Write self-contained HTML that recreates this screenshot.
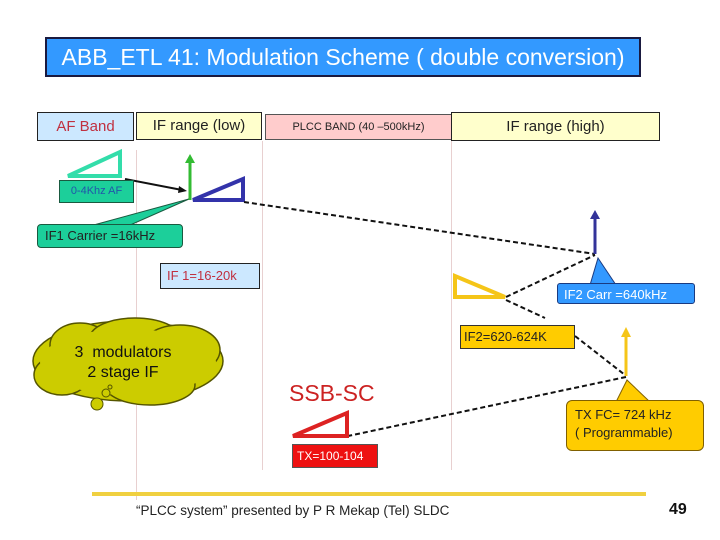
<!DOCTYPE html>
<html><head><style>
body{margin:0;width:720px;height:540px;background:#fff;overflow:hidden;font-family:"Liberation Sans","DejaVu Sans",sans-serif;}
.a{position:absolute;box-sizing:border-box;}
</style></head><body>
<div class="a" style="left:45px;top:37px;width:596px;height:40px;background:#3399ff;border:2px solid #1a1a40;color:#fff;font-size:23px;line-height:36px;text-align:center;">ABB_ETL 41: Modulation Scheme ( double conversion)</div>

<div class="a" style="left:37px;top:112px;width:97px;height:29px;background:#cce8ff;border:1px solid #222;color:#c03040;font-size:15px;line-height:27px;text-align:center;">AF Band</div>
<div class="a" style="left:136px;top:112px;width:126px;height:28px;background:#ffffcc;border:1px solid #222;color:#222;font-size:15px;line-height:26px;text-align:center;">IF range (low)</div>
<div class="a" style="left:265px;top:114px;width:187px;height:26px;background:#ffcccc;border:1px solid #555;color:#222;font-size:11px;line-height:24px;text-align:center;">PLCC BAND (40 –500kHz)</div>
<div class="a" style="left:451px;top:112px;width:209px;height:29px;background:#ffffcc;border:1px solid #222;color:#222;font-size:15px;line-height:27px;text-align:center;">IF range (high)</div>

<svg class="a" style="left:0;top:0" width="720" height="540">
<g stroke="#e8d0d0" stroke-width="1">
<line x1="136.5" y1="150" x2="136.5" y2="500"/>
<line x1="262.5" y1="141" x2="262.5" y2="470"/>
<line x1="451.5" y1="141" x2="451.5" y2="470"/>
</g>
<polygon points="68,176 120,176 120,152" fill="none" stroke="#33ddaa" stroke-width="4"/>
<polygon points="90,226 128,226 189,199" fill="#1ccf9a" stroke="#1a5a40" stroke-width="1"/>
<polygon points="590,285 616,285 598,258" fill="#3399ff" stroke="#1a3a80"/>
<polygon points="616,402 650,402 627,380" fill="#ffcc00" stroke="#806000"/>
<line x1="125" y1="179" x2="182" y2="190" stroke="#111" stroke-width="2"/>
<polygon points="187,191 179,186 178,193" fill="#111"/>
<line x1="190" y1="200" x2="190" y2="162" stroke="#33bb33" stroke-width="3"/>
<polygon points="190,154 185,163 195,163" fill="#33bb33"/>
<polygon points="193,200 243,200 243,179" fill="none" stroke="#3333aa" stroke-width="4"/>
<g stroke="#111" stroke-width="2" stroke-dasharray="5,3" fill="none">
<line x1="244" y1="202" x2="595" y2="254"/>
<line x1="506" y1="297" x2="595" y2="255"/>
<line x1="506" y1="300" x2="545" y2="318"/>
<line x1="575" y1="336" x2="625" y2="375"/>
<line x1="626" y1="377" x2="348" y2="436"/>
</g>
<line x1="595" y1="254" x2="595" y2="218" stroke="#333399" stroke-width="3"/>
<polygon points="595,210 590,219 600,219" fill="#333399"/>
<polygon points="455,276 455,297 505,297" fill="none" stroke="#f5c518" stroke-width="4"/>
<line x1="626" y1="376" x2="626" y2="336" stroke="#f5c518" stroke-width="3"/>
<polygon points="626,327 621,337 631,337" fill="#f5c518"/>
<polygon points="293,436 347,436 347,413" fill="none" stroke="#dd2222" stroke-width="4"/>
<g fill="#cccc00" stroke="#555500" stroke-width="1.5">
<ellipse cx="128" cy="361" rx="95" ry="40"/>
<ellipse cx="80" cy="345" rx="30" ry="22"/>
<ellipse cx="135" cy="338" rx="45" ry="20"/>
<ellipse cx="180" cy="350" rx="40" ry="25"/>
<ellipse cx="62" cy="375" rx="28" ry="20"/>
<ellipse cx="150" cy="385" rx="45" ry="20"/>
</g>
<ellipse cx="128" cy="362" rx="88" ry="33" fill="#cccc00"/>
<circle cx="97" cy="404" r="6" fill="#cccc00" stroke="#555500"/>
<circle cx="106" cy="393" r="4" fill="#cccc00" stroke="#555500"/>
<circle cx="110" cy="387" r="2" fill="#cccc00" stroke="#555500"/>
<line x1="92" y1="494" x2="646" y2="494" stroke="#f0d040" stroke-width="4"/>
</svg>

<div class="a" style="left:59px;top:180px;width:75px;height:23px;background:#1ccf9a;border:1px solid #1a5a40;color:#2255aa;font-size:11px;line-height:21px;text-align:center;">0-4Khz AF</div>
<div class="a" style="left:37px;top:224px;width:146px;height:24px;background:#1ccf9a;border:1px solid #1a5a40;border-radius:4px;color:#222;font-size:13px;line-height:22px;padding-left:7px;">IF1 Carrier =16kHz</div>
<div class="a" style="left:160px;top:263px;width:100px;height:26px;background:#cce8ff;border:1px solid #222;color:#c03040;font-size:13px;line-height:24px;padding-left:6px;">IF 1=16-20k</div>
<div class="a" style="left:557px;top:283px;width:138px;height:21px;background:#3399ff;border:1px solid #1a3a80;border-radius:3px;color:#fff;font-size:13px;line-height:22px;padding-left:6px;">IF2 Carr =640kHz</div>
<div class="a" style="left:460px;top:325px;width:115px;height:24px;background:#ffcc00;border:1px solid #333;color:#222;font-size:13px;line-height:22px;padding-left:3px;">IF2=620-624K</div>
<div class="a" style="left:566px;top:400px;width:138px;height:51px;background:#ffcc00;border:1px solid #806000;border-radius:6px;color:#222;font-size:13px;line-height:18px;padding:5px 0 0 8px;">TX FC= 724 kHz<br>( Programmable)</div>
<div class="a" style="left:48px;top:343px;width:150px;color:#111;font-size:16px;line-height:20px;text-align:center;">3&nbsp; modulators<br>2 stage IF</div>
<div class="a" style="left:289px;top:380px;color:#cc2222;font-size:23px;">SSB-SC</div>
<div class="a" style="left:292px;top:444px;width:86px;height:24px;background:#ee1111;border:1px solid #555;color:#fff;font-size:12px;line-height:22px;padding-left:4px;">TX=100-104</div>
<div class="a" style="left:136px;top:503px;color:#222;font-size:13.5px;">“PLCC system” presented by P R Mekap (Tel) SLDC</div>
<div class="a" style="left:669px;top:501px;color:#111;font-size:16px;font-weight:bold;">49</div>
</body></html>
